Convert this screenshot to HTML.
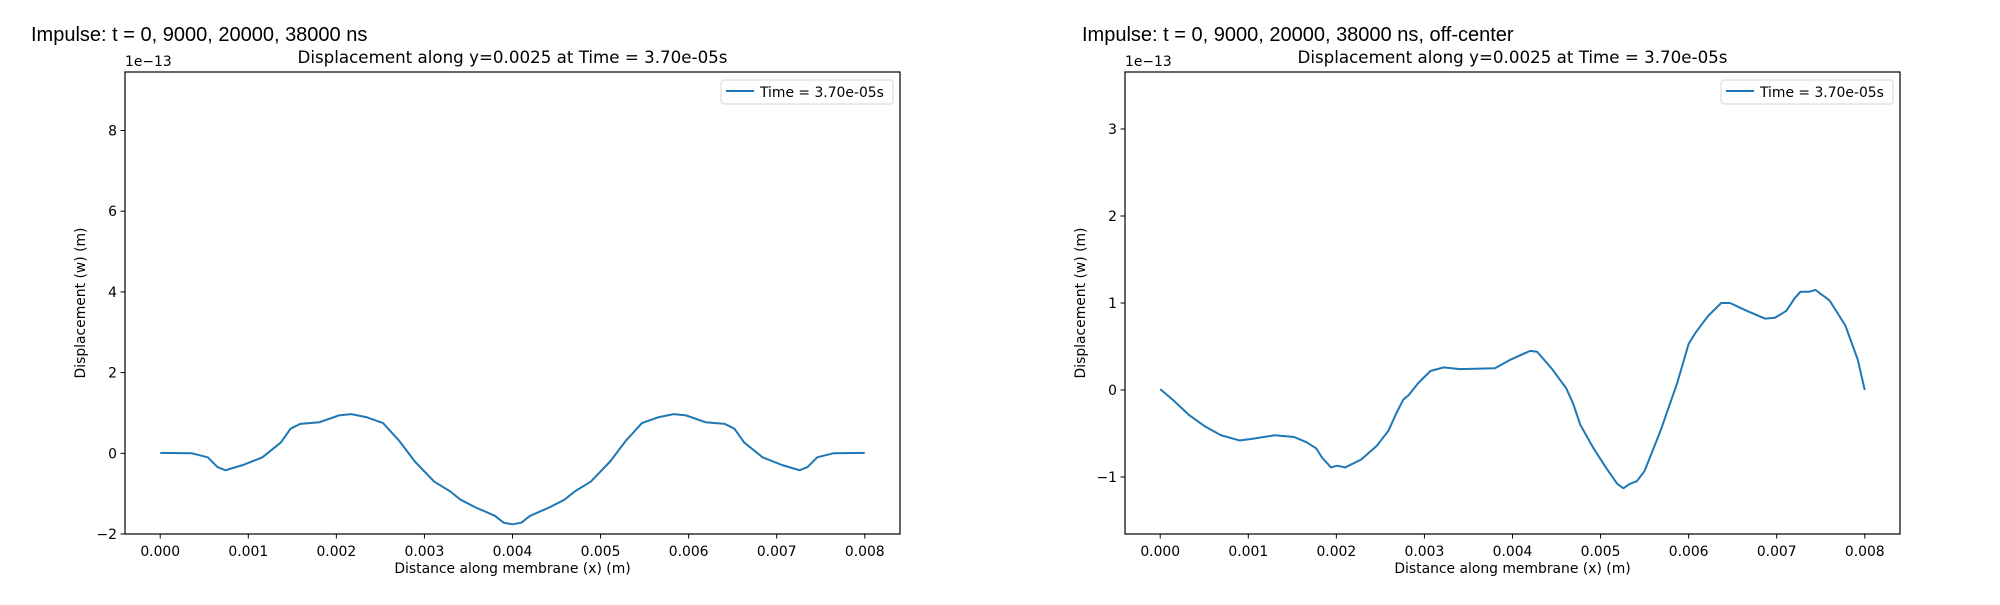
<!DOCTYPE html>
<html><head><meta charset="utf-8"><style>
html,body{margin:0;padding:0;background:#fff;}
svg text{font-family:"DejaVu Sans",sans-serif;fill:#000;}
</style></head><body>
<svg id="fig" width="2000" height="600" xmlns="http://www.w3.org/2000/svg"></svg>
<script>
const leftX=[0,0.00036,0.00054,0.00065,0.00074,0.00094,0.00116,0.00137,0.00148,0.00159,0.00181,0.00203,0.00217,0.00235,0.00253,0.00271,0.00289,0.00311,0.00329,0.00341,0.00358,0.0038,0.0039,0.004,0.0041,0.0042,0.00442,0.00459,0.00471,0.00489,0.00511,0.00529,0.00547,0.00565,0.00583,0.00597,0.00619,0.00641,0.00652,0.00663,0.00684,0.00706,0.00726,0.00735,0.00746,0.00764,0.008];
const leftY=[0.01,0,-0.1,-0.34,-0.42,-0.29,-0.1,0.27,0.61,0.73,0.77,0.94,0.97,0.89,0.75,0.32,-0.2,-0.7,-0.94,-1.15,-1.34,-1.55,-1.72,-1.76,-1.72,-1.55,-1.34,-1.15,-0.94,-0.7,-0.2,0.32,0.75,0.89,0.97,0.94,0.77,0.73,0.61,0.27,-0.1,-0.29,-0.42,-0.34,-0.1,0,0.01];
const rightX=[0,0.00014,0.00033,0.00051,0.00069,0.0009,0.00105,0.0013,0.00152,0.00166,0.00177,0.00184,0.00194,0.00201,0.0021,0.00228,0.00246,0.00259,0.00268,0.00276,0.00282,0.00293,0.00307,0.00322,0.0034,0.0038,0.00398,0.0042,0.00428,0.00445,0.00461,0.00469,0.00477,0.00492,0.00506,0.00519,0.00526,0.00533,0.00541,0.0055,0.00568,0.00587,0.006,0.00608,0.00622,0.00637,0.00647,0.00666,0.00687,0.00698,0.00711,0.0072,0.00727,0.00737,0.00744,0.0076,0.00778,0.00792,0.008];
const rightY=[0.01,-0.11,-0.29,-0.42,-0.52,-0.58,-0.56,-0.52,-0.54,-0.6,-0.67,-0.78,-0.89,-0.87,-0.89,-0.8,-0.64,-0.47,-0.27,-0.11,-0.06,0.08,0.22,0.26,0.24,0.25,0.35,0.45,0.44,0.24,0.02,-0.16,-0.4,-0.67,-0.89,-1.08,-1.13,-1.08,-1.05,-0.93,-0.47,0.08,0.53,0.66,0.85,1.0,1.0,0.91,0.82,0.83,0.91,1.05,1.13,1.13,1.15,1.03,0.74,0.35,0];
const xTicks=[0,0.001,0.002,0.003,0.004,0.005,0.006,0.007,0.008];
const xTickLabels=["0.000","0.001","0.002","0.003","0.004","0.005","0.006","0.007","0.008"];
const leftYTicks=[-2,0,2,4,6,8];
const rightYTicks=[-1,0,1,2,3];

const svg=document.getElementById('fig');
const NS="http://www.w3.org/2000/svg";
function mk(tag,attrs,parent,text){const e=document.createElementNS(NS,tag);for(const k in attrs)e.setAttribute(k,attrs[k]);if(text!==undefined)e.textContent=text;(parent||svg).appendChild(e);return e;}

function panel(id,L,suptitle,supX,xs,ys,yTicks,yMin,yMax){
  const T=72,W=775,H=462,B=T+H,FS='13.9';
  const g=mk('g',{});
  
  
  const sx=v=>L+(v+0.0004)/0.0088*W;
  const sy=v=>B-(v-yMin)/(yMax-yMin)*H;
  let t=mk('text',{x:supX,y:41,'font-size':'20','style':'font-family:"Liberation Sans",Arial,sans-serif'},g,suptitle);
  
  
  t=mk('text',{x:L+W/2,y:63,'font-size':'16.7','text-anchor':'middle'},g,'Displacement along y=0.0025 at Time = 3.70e-05s');
  
  
  t=mk('text',{x:L,y:66,'font-size':FS},g,'1e\u221213');
  
  
  xTicks.forEach((v,i)=>{
    const x=sx(v);
    const tk=mk('line',{x1:x,x2:x,y1:B,y2:B+4.5,stroke:'#000','stroke-width':1},g);
    
    
    const tl=mk('text',{x:x,y:B+22,'font-size':FS,'text-anchor':'middle'},g,xTickLabels[i]);
    
    
  });
  yTicks.forEach(v=>{
    const y=sy(v);
    const tk=mk('line',{x1:L-4.5,x2:L,y1:y,y2:y,stroke:'#000','stroke-width':1},g);
    
    
    const tl=mk('text',{x:L-8,y:y+5,'font-size':FS,'text-anchor':'end'},g,v<0?'\u2212'+(-v):String(v));
    
    
  });
  t=mk('text',{x:L+W/2,y:573,'font-size':FS,'text-anchor':'middle'},g,'Distance along membrane (x) (m)');
  
  
  t=mk('text',{x:0,y:0,'font-size':FS,'text-anchor':'middle',transform:`translate(${L-40},${T+H/2}) rotate(-90)`},g,'Displacement (w) (m)');
  
  
  const d=xs.map((v,i)=>(i?'L':'M')+sx(v).toFixed(2)+' '+sy(ys[i]).toFixed(2)).join(' ');
  const p=mk('path',{d:d,fill:'none',stroke:'#1f77b4','stroke-width':2,'stroke-linejoin':'round'},g);
  
  
  const fr=mk('rect',{x:L,y:T,width:W,height:H,fill:'none',stroke:'#000','stroke-width':1.2},g);
  
  
  const lg=mk('g',{},g);
  
  
  mk('rect',{x:L+596,y:80,width:172,height:24,rx:3,fill:'#fff',stroke:'#d6d6d6','stroke-width':1},lg);
  mk('line',{x1:L+601,x2:L+629,y1:91,y2:91,stroke:'#1f77b4','stroke-width':2},lg);
  const lt=mk('text',{x:L+635,y:97,'font-size':FS},lg,'Time = 3.70e-05s');
  
  
}
panel('left',125,'Impulse: t = 0, 9000, 20000, 38000 ns',31,leftX,leftY,leftYTicks,-2,9.45);
panel('right',1125,'Impulse: t = 0, 9000, 20000, 38000 ns, off-center',1082,rightX,rightY,rightYTicks,-1.655,3.655);
</script>
</body></html>
